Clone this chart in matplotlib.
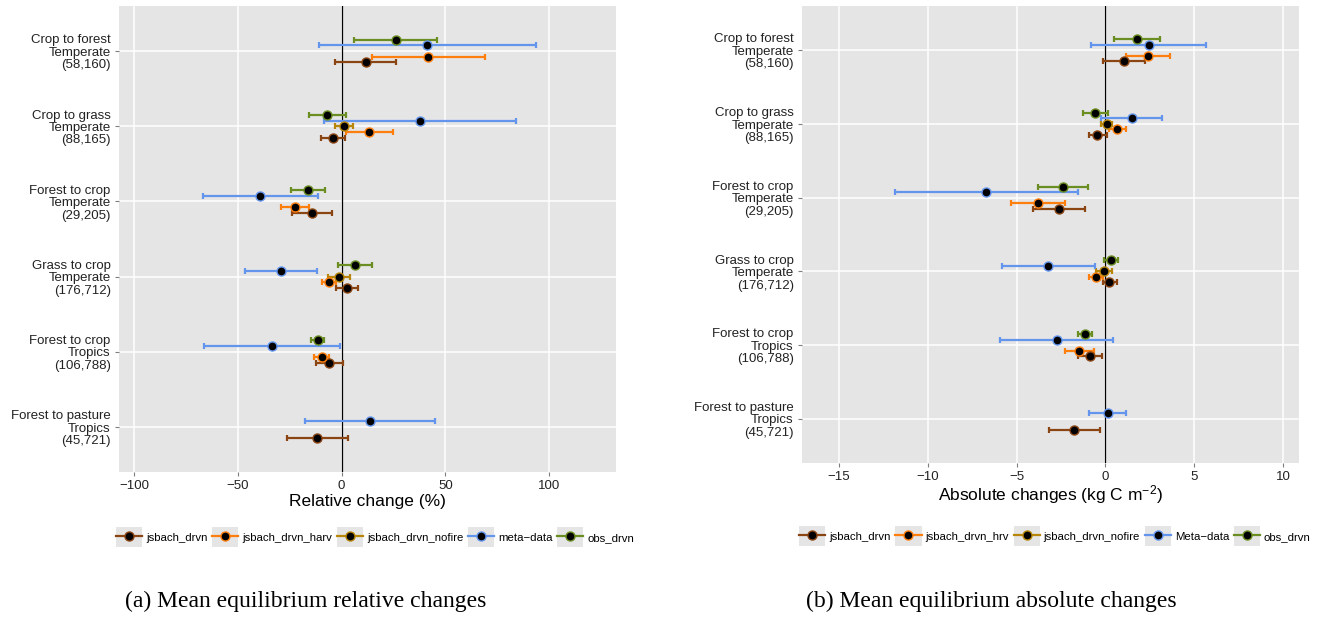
import numpy as np
import matplotlib
matplotlib.use("Agg")
import matplotlib.pyplot as plt
from matplotlib.lines import Line2D
from matplotlib.patches import Rectangle
from matplotlib.legend_handler import HandlerLine2D

plt.rcParams["font.family"] = ["Liberation Sans", "DejaVu Sans"]
plt.rcParams["mathtext.fontset"] = "custom"
plt.rcParams["mathtext.rm"] = "Liberation Sans"
plt.rcParams["mathtext.it"] = "Liberation Sans:italic"

nan = np.nan

# Land-use transitions, top to bottom
categories = [
    "Crop to forest\nTemperate\n(58,160)",
    "Crop to grass\nTemperate\n(88,165)",
    "Forest to crop\nTemperate\n(29,205)",
    "Grass to crop\nTemperate\n(176,712)",
    "Forest to crop\nTropics\n(106,788)",
    "Forest to pasture\nTropics\n(45,721)",
]

# Relative changes (%): mean, lower, upper
rel_drvn = [11.5, -4.2, -14.3, 2.5, -5.9, -11.7]
rel_drvn_lo = [-3.4, -9.9, -24.1, -2.5, -12.2, -26.2]
rel_drvn_hi = [26.4, 1.5, -4.8, 8.0, 0.6, 3.1]
rel_harv = [41.8, 13.4, -22.4, -5.9, -9.7, nan]
rel_harv_lo = [14.7, 2.3, -29.0, -9.4, -13.4, nan]
rel_harv_hi = [69.0, 24.5, -15.7, -2.5, -5.9, nan]
rel_nofire = [nan, 1.1, nan, -1.1, nan, nan]
rel_nofire_lo = [nan, -3.1, nan, -6.5, nan, nan]
rel_nofire_hi = [nan, 5.3, nan, 4.2, nan, nan]
rel_meta = [41.3, 37.8, -39.2, -29.2, -33.6, 13.6]
rel_meta_lo = [-10.7, -8.4, -66.7, -46.4, -66.1, -17.6]
rel_meta_hi = [93.4, 84.1, -11.5, -11.7, -1.0, 45.1]
rel_obs = [26.0, -6.9, -16.2, 6.5, -11.5, nan]
rel_obs_lo = [6.1, -15.7, -24.3, -1.7, -14.9, nan]
rel_obs_hi = [45.9, 2.3, -7.8, 14.5, -8.4, nan]

# Absolute changes (kg C m-2): mean, lower, upper
abs_drvn = [1.03, -0.46, -2.60, 0.21, -0.87, -1.75]
abs_drvn_lo = [-0.14, -0.92, -4.07, -0.16, -1.54, -3.15]
abs_drvn_hi = [2.25, 0.07, -1.13, 0.64, -0.18, -0.32]
abs_hrv = [2.37, 0.64, -3.77, -0.51, -1.47, nan]
abs_hrv_lo = [1.15, 0.21, -5.31, -0.90, -2.28, nan]
abs_hrv_hi = [3.61, 1.15, -2.25, -0.14, -0.64, nan]
abs_nofire = [nan, 0.07, nan, -0.09, nan, nan]
abs_nofire_lo = [nan, -0.25, nan, -0.51, nan, nan]
abs_nofire_hi = [nan, 0.39, nan, 0.37, nan, nan]
abs_meta = [2.46, 1.47, -6.71, -3.22, -2.71, 0.14]
abs_meta_lo = [-0.80, -0.23, -11.84, -5.84, -5.91, -0.90]
abs_meta_hi = [5.68, 3.20, -1.56, -0.57, 0.44, 1.13]
abs_obs = [1.79, -0.57, -2.39, 0.30, -1.17, nan]
abs_obs_lo = [0.48, -1.26, -3.77, -0.11, -1.54, nan]
abs_obs_hi = [3.08, 0.14, -0.99, 0.71, -0.78, nan]

rel_labels = ["jsbach_drvn", "jsbach_drvn_harv", "jsbach_drvn_nofire", "meta\u2212data", "obs_drvn"]
abs_labels = ["jsbach_drvn", "jsbach_drvn_hrv", "jsbach_drvn_nofire", "Meta\u2212data", "obs_drvn"]
colors = ["#8B4513", "#FF7F0E", "#B8860B", "#6495ED", "#6B8E23"]
offsets = [-2, -1, 0, 1, 2]  # dodge slots, obs on top
DODGE = 0.075

BG = "#E5E5E5"
TXT = "#222222"


class KeyHandler(HandlerLine2D):
    # legend key with grey background box
    def create_artists(self, legend, orig_handle, xdescent, ydescent,
                       width, height, fontsize, trans):
        bg = Rectangle((-xdescent, -ydescent - 0.25 * height), width, height * 1.5,
                       facecolor=BG, edgecolor="none", transform=trans)
        arts = super().create_artists(legend, orig_handle, xdescent, ydescent,
                                      width, height, fontsize, trans)
        return [bg] + arts


def draw_panel(ax, series, xlim, xticks, xlabel, labelpad):
    ax.set_facecolor(BG)
    n = len(categories)
    ypos = np.arange(n)[::-1]
    for (m, lo, hi), col, off in zip(series, colors, offsets):
        m, lo, hi = np.array(m), np.array(lo), np.array(hi)
        ok = ~np.isnan(m)
        y = ypos[ok] + off * DODGE
        ax.errorbar(m[ok], y, xerr=[m[ok] - lo[ok], hi[ok] - m[ok]], fmt="none",
                    ecolor=col, elinewidth=1.6, capsize=2.2, capthick=1.6, zorder=3)
    for (m, lo, hi), col, off in zip(series, colors, offsets):
        m = np.array(m)
        ok = ~np.isnan(m)
        ax.plot(m[ok], ypos[ok] + off * DODGE, "o", color="black", mec=col, mew=1.0,
                ms=6.5, zorder=4, linestyle="none")
    ax.axvline(0, color="black", lw=0.9, zorder=2)
    ax.set_xlim(*xlim)
    ax.set_ylim(-0.6, n - 0.4)
    ax.set_xticks(xticks)
    ax.set_yticks(ypos)
    ax.set_yticklabels(categories, linespacing=1.05, ha="right", multialignment="right")
    ax.grid(True, color="white", lw=1.1, zorder=1)
    ax.set_axisbelow(True)
    for s in ax.spines.values():
        s.set_visible(False)
    ax.tick_params(axis="both", length=3, width=0.8, color="#7F7F7F",
                   labelsize=9.5, labelcolor=TXT, pad=3)
    ax.set_xlabel(xlabel, fontsize=12.5, labelpad=labelpad)

    handles = [Line2D([], [], color=c, lw=1.6, marker="o", mfc="black", mec=c, ms=6.5)
               for c in colors]
    return handles


fig = plt.figure(figsize=(13.21, 6.17), dpi=100)
ax1 = fig.add_axes([0.0901, 0.2350, 0.3762, 0.7553])
ax2 = fig.add_axes([0.6071, 0.2496, 0.3762, 0.7407])

rel_series = [(rel_drvn, rel_drvn_lo, rel_drvn_hi), (rel_harv, rel_harv_lo, rel_harv_hi),
              (rel_nofire, rel_nofire_lo, rel_nofire_hi), (rel_meta, rel_meta_lo, rel_meta_hi),
              (rel_obs, rel_obs_lo, rel_obs_hi)]
abs_series = [(abs_drvn, abs_drvn_lo, abs_drvn_hi), (abs_hrv, abs_hrv_lo, abs_hrv_hi),
              (abs_nofire, abs_nofire_lo, abs_nofire_hi), (abs_meta, abs_meta_lo, abs_meta_hi),
              (abs_obs, abs_obs_lo, abs_obs_hi)]

h1 = draw_panel(ax1, rel_series, (-107.2, 132.1), [-100, -50, 0, 50, 100],
                "Relative change (%)", 1)
h2 = draw_panel(ax2, abs_series, (-17.07, 10.88), [-15, -10, -5, 0, 5, 10],
                r"Absolute changes (kg C m$^{-2}$)", 0)

leg_kw = dict(loc="center", ncol=5, frameon=False, fontsize=8.2, handlelength=2.3,
              handleheight=1.35, handletextpad=0.35, columnspacing=0.4,
              handler_map={Line2D: KeyHandler()})
fig.legend(h1, rel_labels, bbox_to_anchor=(375 / 1321, 1 - 537 / 617), **leg_kw)
fig.legend(h2, abs_labels, bbox_to_anchor=(1055 / 1321, 1 - 536 / 617), **leg_kw)

cap_kw = dict(ha="center", va="center", fontsize=17, family=["Liberation Serif", "DejaVu Serif"])
fig.text(306 / 1321, 1 - 601 / 617, "(a) Mean equilibrium relative changes", **cap_kw)
fig.text(991 / 1321, 1 - 601 / 617, "(b) Mean equilibrium absolute changes", **cap_kw)

fig.savefig("out.png", dpi=100)
